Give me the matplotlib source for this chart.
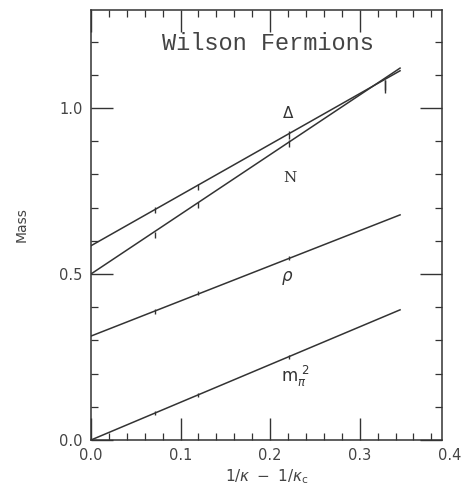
import matplotlib
matplotlib.use("Agg")
import matplotlib.pyplot as plt
from matplotlib.ticker import MultipleLocator, FormatStrFormatter

# Measured hadron masses (with errors) versus 1/kappa - 1/kappa_c
x_pts = [0.072, 0.120, 0.221, 0.328]

delta_y = [0.693, 0.762, 0.919, 1.065]
delta_err = [0.010, 0.010, 0.012, 0.020]

nucleon_y = [0.617, 0.708, 0.892, 1.070]
nucleon_err = [0.010, 0.010, 0.010, 0.015]

rho_y = [0.386, 0.443, 0.548]
rho_err = [0.008, 0.006, 0.006]

pion_x = [0.072, 0.120, 0.221]
pion_y = [0.081, 0.136, 0.250]
pion_err = [0.005, 0.005, 0.005]

# Linear extrapolations (end points)
fit_x = [0.0, 0.345]
delta_fit = [0.585, 1.112]
nucleon_fit = [0.500, 1.120]
rho_fit = [0.313, 0.678]
pion_fit = [0.000, 0.392]

x_ticks = [0.0, 0.1, 0.2, 0.3, 0.4]

ink = "#333333"
txt = "#444444"

fig = plt.figure(figsize=(4.63, 5.0), dpi=100)
ax = fig.add_axes([0.1965, 0.12, 0.7585, 0.86])

for fy in (delta_fit, nucleon_fit, rho_fit, pion_fit):
    ax.plot(fit_x, fy, color=ink, lw=1.1)

for xs, ys, es in ((x_pts, delta_y, delta_err), (x_pts, nucleon_y, nucleon_err),
                   (x_pts[:3], rho_y, rho_err), (pion_x, pion_y, pion_err)):
    ax.errorbar(xs, ys, yerr=es, fmt="none", ecolor=ink, elinewidth=1.0, capsize=0)

ax.set_xlim(0, 0.392)
ax.set_ylim(0, 1.295)

ax.xaxis.set_major_locator(MultipleLocator(0.1))
ax.xaxis.set_minor_locator(MultipleLocator(0.02))
ax.yaxis.set_major_locator(MultipleLocator(0.5))
ax.yaxis.set_minor_locator(MultipleLocator(0.1))
ax.xaxis.set_major_formatter(FormatStrFormatter("%.1f"))
ax.yaxis.set_major_formatter(FormatStrFormatter("%.1f"))

tick_pad = 6
ax.tick_params(which="both", direction="in", top=True, right=True, color=ink,
               labelcolor=txt, labelsize=10.5)
ax.tick_params(which="major", length=16, width=1.0, pad=tick_pad)
ax.tick_params(which="minor", length=5, width=0.9)
for s in ax.spines.values():
    s.set_color(ink)
    s.set_linewidth(1.1)

# the last x label sits just past the right frame edge
lbl_trans, lbl_va, lbl_ha = ax.get_xaxis_text1_transform(tick_pad)
ax.text(x_ticks[-1], 0, f"{x_ticks[-1]:.1f}", transform=lbl_trans,
        fontsize=10.5, color=txt, ha=lbl_ha, va=lbl_va, clip_on=False)

ax.text(0.198, 1.195, "Wilson Fermions", family="Liberation Mono", fontsize=17,
        color=txt, ha="center", va="center")
ax.text(0.220, 0.985, r"$\Delta$", fontsize=11, color=ink, ha="center", va="center")
ax.text(0.222, 0.79, "N", family="DejaVu Serif", fontsize=11, color=ink,
        ha="center", va="center")
ax.text(0.219, 0.488, r"$\rho$", fontsize=12, color=ink, ha="center", va="center")
ax.text(0.228, 0.19, r"$\mathrm{m}_{\pi}^{\ 2}$", fontsize=12, color=ink,
        ha="center", va="center")

ax.set_xlabel(r"$1/\kappa\ -\ 1/\kappa_{\rm c}$", fontsize=11, color=txt, labelpad=3)
ax.set_ylabel("Mass", fontsize=10, color=txt, labelpad=22)

fig.savefig("out.png", dpi=100, facecolor="white")
